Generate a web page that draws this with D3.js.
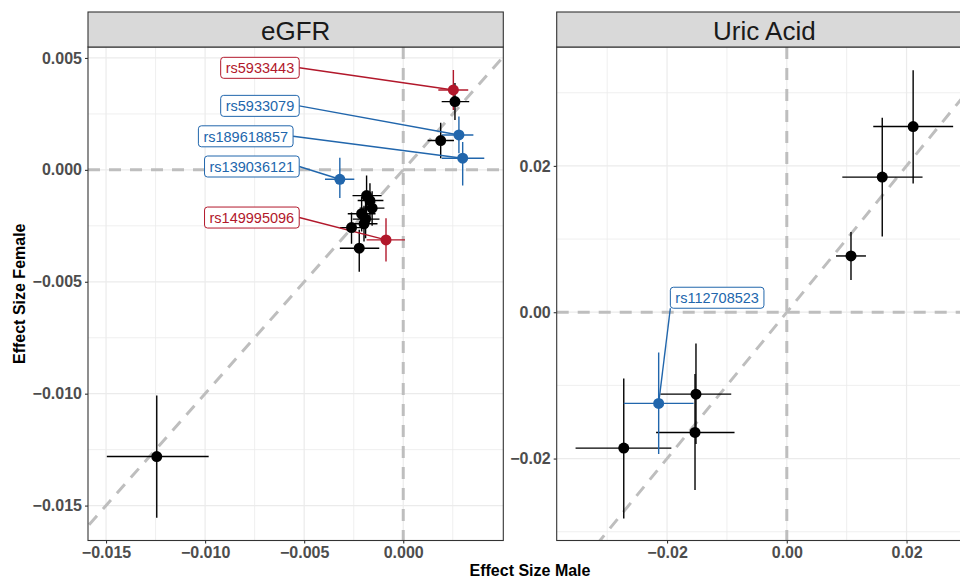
<!DOCTYPE html>
<html>
<head>
<meta charset="utf-8">
<script src="https://cdn.jsdelivr.net/npm/d3@7"></script>
<style>
  body { margin: 0; background: #fff; }
  text { font-family: "Liberation Sans", Arial, Helvetica, sans-serif; }
</style>
</head>
<body>
<div id="chart"></div>
<script>
// eGFR panel data
const egfrSnp = ["rs5933443", "", "rs5933079", "", "rs189618857", "rs139036121", "rs149995096", "",
  "", "", "", "", "", "", "", ""];
const egfrGroup = ["red", "black", "blue", "black", "blue", "blue", "red", "black",
  "black", "black", "black", "black", "black", "black", "black", "black"];
const egfrMale = [0.00253, 0.00261, 0.00281, 0.00189, 0.0030, -0.0032, -0.00087, -0.01244,
  -0.00185, -0.00168, -0.00157, -0.0021, -0.0019, -0.00198, -0.00261, -0.00222];
const egfrMaleLo = [0.00177, 0.00194, 0.00194, 0.00123, 0.00194, -0.00395, -0.00185, -0.01496,
  -0.00256, -0.0023, -0.0022, -0.0028, -0.00255, -0.00265, -0.0032, -0.0032];
const egfrMaleHi = [0.00328, 0.00333, 0.00354, 0.00256, 0.00409, -0.00247, 0.00009, -0.00982,
  -0.00109, -0.001, -0.00095, -0.0014, -0.0012, -0.0013, -0.002, -0.00121];
const egfrFemale = [0.00357, 0.00305, 0.00156, 0.00131, 0.00052, -0.00042, -0.00313, -0.01281,
  -0.00115, -0.00137, -0.00171, -0.00196, -0.0022, -0.00241, -0.00258, -0.0035];
const egfrFemaleLo = [0.00268, 0.00223, 0.00074, 0.00052, -0.0007, -0.00126, -0.00409, -0.01554,
  -0.00195, -0.00215, -0.0025, -0.00275, -0.00305, -0.0032, -0.0033, -0.00455];
const egfrFemaleHi = [0.00446, 0.00388, 0.00238, 0.00211, 0.00125, 0.00054, -0.00216, -0.01008,
  -0.00025, -0.0006, -0.00095, -0.0012, -0.00135, -0.0016, -0.0019, -0.00268];

// Uric acid panel data
const uricSnp = ["", "", "", "rs112708523", "", "", ""];
const uricGroup = ["black", "black", "black", "blue", "black", "black", "black"];
const uricMale = [0.0211, 0.01594, 0.01072, -0.0214, -0.01517, -0.01533, -0.02723];
const uricMaleLo = [0.01444, 0.00927, 0.00822, -0.02723, -0.02112, -0.02183, -0.03528];
const uricMaleHi = [0.02778, 0.02267, 0.01322, -0.01557, -0.00928, -0.00873, -0.01928];
const uricFemale = [0.02538, 0.01847, 0.00769, -0.01246, -0.0112, -0.01643, -0.01857];
const uricFemaleLo = [0.01761, 0.01034, 0.00441, -0.01939, -0.01802, -0.0243, -0.0282];
const uricFemaleHi = [0.03308, 0.02658, 0.01096, -0.0055, -0.00427, -0.00846, -0.00905];

// ticks
const egfrXTicks = [-0.015, -0.01, -0.005, 0];
const egfrYTicks = [0.005, 0, -0.005, -0.01, -0.015];
const uricXTicks = [-0.02, 0, 0.02];
const uricYTicks = [0.02, 0, -0.02];

const colors = { red: "#B2182B", blue: "#2166AC", black: "#000000" };

const build = (snp, group, m, mlo, mhi, f, flo, fhi) =>
  snp.map((s, i) => ({ snp: s, group: group[i], x: m[i], xlo: mlo[i], xhi: mhi[i], y: f[i], ylo: flo[i], yhi: fhi[i] }));

const panels = [
  {
    title: "eGFR",
    data: build(egfrSnp, egfrGroup, egfrMale, egfrMaleLo, egfrMaleHi, egfrFemale, egfrFemaleLo, egfrFemaleHi),
    left: 88, right: 503.3,
    xDomain: [-0.01591, 0.00505], yDomain: [-0.01656, 0.00549],
    xTicks: egfrXTicks, yTicks: egfrYTicks, fmt: d3.format(".3f"),
    // label box placement (repel result) in data units
    labels: {
      rs5933443: { side: "right", x: -0.00525, y: 0.00456 },
      rs5933079: { side: "right", x: -0.00525, y: 0.00286 },
      rs189618857: { side: "right", x: -0.00556, y: 0.0015 },
      rs139036121: { side: "right", x: -0.00525, y: 0.00015 },
      rs149995096: { side: "right", x: -0.00525, y: -0.00213 },
    }
  },
  {
    title: "Uric Acid",
    data: build(uricSnp, uricGroup, uricMale, uricMaleLo, uricMaleHi, uricFemale, uricFemaleLo, uricFemaleHi),
    left: 556.7, right: 972,
    xDomain: [-0.03843, 0.03093], yDomain: [-0.0312, 0.03625],
    xTicks: uricXTicks, yTicks: uricYTicks, fmt: d3.format(".2f"),
    labels: {
      rs112708523: { side: "left", x: -0.01945, y: 0.00198 },
    }
  }
];

const width = 960;
const height = 579;
const plotTop = 47;
const plotBottom = 540.5;
const stripTop = 12;

const svg = d3.select("#chart").append("svg")
  .attr("width", width)
  .attr("height", height);

const minors = (ticks) => {
  const step = Math.abs(ticks[1] - ticks[0]);
  const lo = d3.min(ticks) - step, hi = d3.max(ticks) + step;
  return d3.range(lo + step / 2, hi, step);
};

panels.forEach((p, pi) => {
  const x = d3.scaleLinear().domain(p.xDomain).range([p.left, p.right]);
  const y = d3.scaleLinear().domain(p.yDomain).range([plotBottom, plotTop]);
  const g = svg.append("g");

  const clipId = "clip" + pi;
  g.append("clipPath").attr("id", clipId)
    .append("rect")
    .attr("x", p.left).attr("y", plotTop)
    .attr("width", p.right - p.left).attr("height", plotBottom - plotTop);

  const inner = g.append("g").attr("clip-path", `url(#${clipId})`);

  // grid
  const xMin = minors(p.xTicks).filter(v => v > p.xDomain[0] && v < p.xDomain[1]);
  const yMin = minors(p.yTicks).filter(v => v > p.yDomain[0] && v < p.yDomain[1]);
  inner.selectAll(".gxm").data(xMin).enter().append("line")
    .attr("x1", d => x(d)).attr("x2", d => x(d)).attr("y1", plotTop).attr("y2", plotBottom)
    .attr("stroke", "#EBEBEB").attr("stroke-width", 0.8);
  inner.selectAll(".gym").data(yMin).enter().append("line")
    .attr("y1", d => y(d)).attr("y2", d => y(d)).attr("x1", p.left).attr("x2", p.right)
    .attr("stroke", "#EBEBEB").attr("stroke-width", 0.8);
  inner.selectAll(".gx").data(p.xTicks).enter().append("line")
    .attr("x1", d => x(d)).attr("x2", d => x(d)).attr("y1", plotTop).attr("y2", plotBottom)
    .attr("stroke", "#EBEBEB").attr("stroke-width", 1.2);
  inner.selectAll(".gy").data(p.yTicks).enter().append("line")
    .attr("y1", d => y(d)).attr("y2", d => y(d)).attr("x1", p.left).attr("x2", p.right)
    .attr("stroke", "#EBEBEB").attr("stroke-width", 1.2);

  // reference lines
  const dash = { stroke: "#BEBEBE", w: 3, arr: "12 9" };
  inner.append("line")
    .attr("x1", p.left).attr("x2", p.right).attr("y1", y(0)).attr("y2", y(0))
    .attr("stroke", dash.stroke).attr("stroke-width", dash.w).attr("stroke-dasharray", dash.arr);
  inner.append("line")
    .attr("x1", x(0)).attr("x2", x(0)).attr("y1", plotTop).attr("y2", plotBottom)
    .attr("stroke", dash.stroke).attr("stroke-width", dash.w).attr("stroke-dasharray", dash.arr);
  const lo = Math.min(p.xDomain[0], p.yDomain[0]), hi = Math.max(p.xDomain[1], p.yDomain[1]);
  inner.append("line")
    .attr("x1", x(lo)).attr("y1", y(lo)).attr("x2", x(hi)).attr("y2", y(hi))
    .attr("stroke", dash.stroke).attr("stroke-width", dash.w).attr("stroke-dasharray", dash.arr);

  // error bars (black first, highlighted on top)
  const ordered = p.data.slice().sort((a, b) => (a.group === "black" ? 0 : 1) - (b.group === "black" ? 0 : 1));
  const bars = inner.append("g");
  ordered.forEach(d => {
    const c = colors[d.group];
    bars.append("line")
      .attr("x1", x(d.xlo)).attr("x2", x(d.xhi)).attr("y1", y(d.y)).attr("y2", y(d.y))
      .attr("stroke", c).attr("stroke-width", 1.4);
    bars.append("line")
      .attr("x1", x(d.x)).attr("x2", x(d.x)).attr("y1", y(d.ylo)).attr("y2", y(d.yhi))
      .attr("stroke", c).attr("stroke-width", 1.4);
  });

  // measure label boxes
  const labelled = p.data.filter(d => d.snp && p.labels[d.snp]);
  const measure = inner.append("g");
  const boxes = labelled.map(d => {
    const L = p.labels[d.snp];
    const t = measure.append("text").attr("font-size", 14.5).text(d.snp);
    const tw = t.node().getComputedTextLength();
    const bw = tw + 10, bh = 21;
    const bx = L.side === "right" ? x(L.x) - bw : x(L.x);
    const by = y(L.y) - bh / 2;
    return { d, side: L.side, bx, by, bw, bh };
  });
  measure.remove();

  // label segments
  boxes.forEach(b => {
    const sx = b.side === "right" ? b.bx + b.bw : b.bx;
    const sy = b.side === "right" ? b.by + b.bh / 2 : b.by + b.bh;
    inner.append("line")
      .attr("x1", sx).attr("y1", sy).attr("x2", x(b.d.x)).attr("y2", y(b.d.y))
      .attr("stroke", colors[b.d.group]).attr("stroke-width", 1.4);
  });

  // points
  inner.append("g").selectAll("circle").data(ordered).enter().append("circle")
    .attr("cx", d => x(d.x)).attr("cy", d => y(d.y)).attr("r", 5.5)
    .attr("fill", d => colors[d.group]);

  // labels
  boxes.forEach(b => {
    const c = colors[b.d.group];
    inner.append("rect")
      .attr("x", b.bx).attr("y", b.by).attr("width", b.bw).attr("height", b.bh)
      .attr("rx", 3).attr("fill", "#fff").attr("stroke", c).attr("stroke-width", 1);
    inner.append("text")
      .attr("x", b.bx + 5).attr("y", b.by + b.bh / 2 + 0.5)
      .attr("font-size", 14.5).attr("fill", c)
      .attr("dominant-baseline", "central")
      .text(b.d.snp);
  });

  // panel border
  g.append("rect")
    .attr("x", p.left).attr("y", plotTop).attr("width", p.right - p.left).attr("height", plotBottom - plotTop)
    .attr("fill", "none").attr("stroke", "#333333").attr("stroke-width", 1.1);

  // strip
  g.append("rect")
    .attr("x", p.left).attr("y", stripTop).attr("width", p.right - p.left).attr("height", plotTop - stripTop)
    .attr("fill", "#D9D9D9").attr("stroke", "#333333").attr("stroke-width", 1.1);
  g.append("text")
    .attr("x", (p.left + p.right) / 2)
    .attr("y", (stripTop + plotTop) / 2 + 1)
    .attr("text-anchor", "middle").attr("dominant-baseline", "central")
    .attr("font-size", 26).attr("fill", "#1A1A1A")
    .text(p.title);

  // axes
  const xAxis = d3.axisBottom(x).tickValues(p.xTicks).tickFormat(p.fmt).tickSize(3).tickPadding(3);
  const yAxis = d3.axisLeft(y).tickValues(p.yTicks).tickFormat(p.fmt).tickSize(3).tickPadding(3);
  const xa = g.append("g").attr("transform", `translate(0,${plotBottom})`).call(xAxis);
  const ya = g.append("g").attr("transform", `translate(${p.left},0)`).call(yAxis);
  [xa, ya].forEach(a => {
    a.select(".domain").remove();
    a.selectAll(".tick line").attr("stroke", "#333333").attr("stroke-width", 1.1);
    a.selectAll(".tick text")
      .attr("font-size", 16).attr("font-weight", "bold").attr("fill", "#4D4D4D")
      .style("font-family", '"Liberation Sans", Arial, sans-serif');
  });
});

// axis titles
svg.append("text")
  .attr("x", (88 + 972) / 2).attr("y", 576)
  .attr("text-anchor", "middle")
  .attr("font-size", 16).attr("font-weight", "bold").attr("fill", "#000")
  .text("Effect Size Male");
svg.append("text")
  .attr("transform", `translate(25,${(plotTop + plotBottom) / 2}) rotate(-90)`)
  .attr("text-anchor", "middle")
  .attr("font-size", 16).attr("font-weight", "bold").attr("fill", "#000")
  .text("Effect Size Female");
</script>
</body>
</html>
